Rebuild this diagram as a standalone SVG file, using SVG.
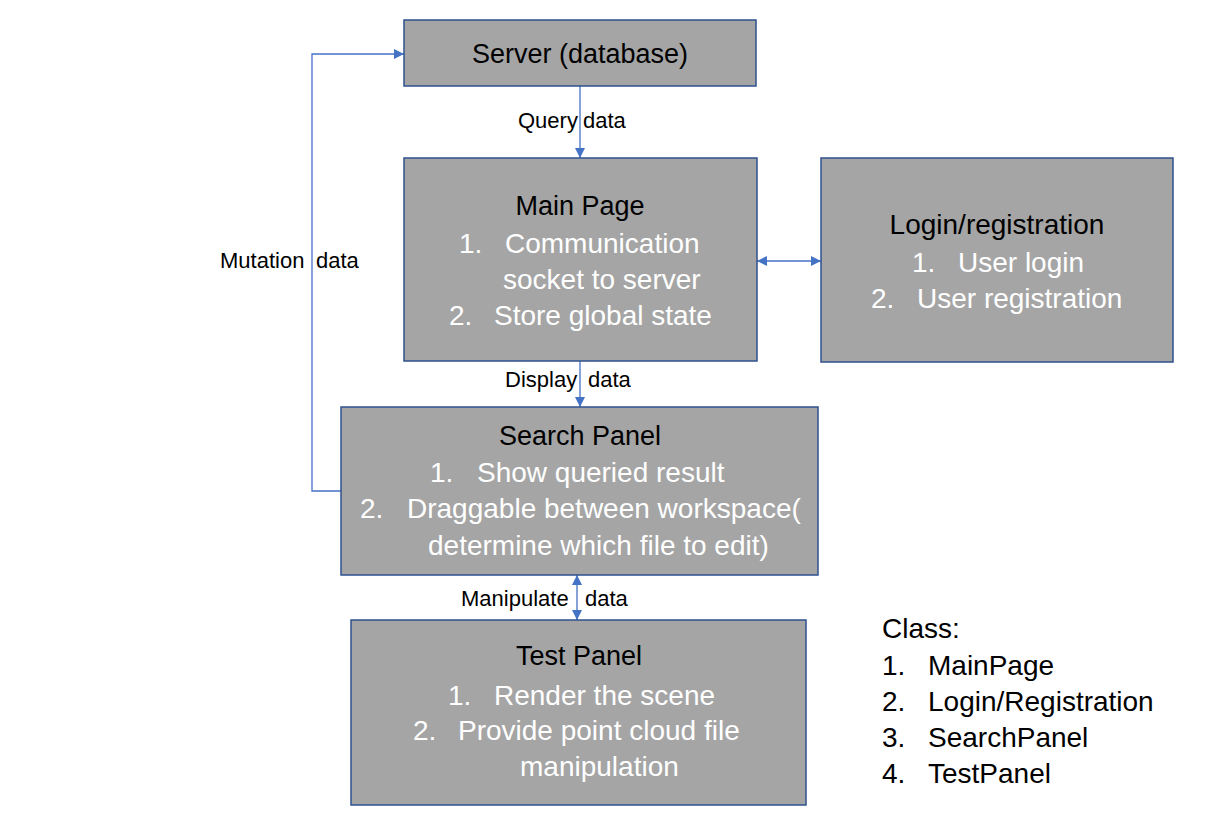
<svg xmlns="http://www.w3.org/2000/svg" width="1226" height="834" viewBox="0 0 1226 834">
<defs>
<style>
.box{fill:#a5a5a5;stroke:#2f528f;stroke-width:1.5}
.h{font-family:"Liberation Sans",Arial,sans-serif;font-size:27px;fill:#000}
.w{font-family:"Liberation Sans",Arial,sans-serif;font-size:28px;fill:#fff}
.lbl{font-family:"Liberation Sans",Arial,sans-serif;font-size:22px;fill:#000}
.cls{font-family:"Liberation Sans",Arial,sans-serif;font-size:28px;fill:#000}
.con{fill:none;stroke:#4472c4;stroke-width:1.3}
</style>
<marker id="ah" viewBox="0 0 10 10" refX="10" refY="5" markerWidth="11" markerHeight="10" markerUnits="userSpaceOnUse" orient="auto-start-reverse">
<path d="M0,0 L10,5 L0,10 Z" fill="#4472c4"/>
</marker>
</defs>
<rect width="1226" height="834" fill="#fff"/>
<g id="connectors">
<line class="con" x1="580" y1="86" x2="580" y2="158" marker-end="url(#ah)"/>
<line class="con" x1="580" y1="361" x2="580" y2="407" marker-end="url(#ah)"/>
<line class="con" x1="757" y1="261" x2="821" y2="261" marker-start="url(#ah)" marker-end="url(#ah)"/>
<line class="con" x1="577" y1="575" x2="577" y2="620" marker-start="url(#ah)" marker-end="url(#ah)"/>
<polyline class="con" points="341,491 312,491 312,54 404,54" marker-end="url(#ah)"/>
<text class="lbl" x="518" y="128">Query</text>
<text class="lbl" x="583" y="128">data</text>
<text class="lbl" x="220" y="268">Mutation</text>
<text class="lbl" x="316" y="268">data</text>
<text class="lbl" x="505" y="387">Display</text>
<text class="lbl" x="588" y="387">data</text>
<text class="lbl" x="461" y="606">Manipulate</text>
<text class="lbl" x="585" y="606">data</text>
</g>
<g id="server">
<rect class="box" x="404" y="20" width="352" height="66"/>
<text class="h" x="580" y="63" text-anchor="middle">Server (database)</text>
</g>
<g id="main-page">
<rect class="box" x="404" y="158" width="353" height="203"/>
<text class="h" x="580" y="215" text-anchor="middle">Main Page</text>
<text class="w" x="459" y="253">1.</text>
<text class="w" x="505" y="253">Communication</text>
<text class="w" x="503" y="289">socket to server</text>
<text class="w" x="449" y="325">2.</text>
<text class="w" x="494" y="325">Store global state</text>
</g>
<g id="login">
<rect class="box" x="821" y="158" width="352" height="204"/>
<text class="h" x="997" y="234" text-anchor="middle" style="font-size:28px">Login/registration</text>
<text class="w" x="912" y="272">1.</text>
<text class="w" x="958" y="272">User login</text>
<text class="w" x="871" y="308">2.</text>
<text class="w" x="917" y="308">User registration</text>
</g>
<g id="search-panel">
<rect class="box" x="341" y="407" width="477" height="168"/>
<text class="h" x="580" y="445" text-anchor="middle">Search Panel</text>
<text class="w" x="430" y="482">1.</text>
<text class="w" x="477" y="482">Show queried result</text>
<text class="w" x="360" y="518">2.</text>
<text class="w" x="407" y="518">Draggable between workspace(</text>
<text class="w" x="428" y="555">determine which file to edit)</text>
</g>
<g id="test-panel">
<rect class="box" x="351" y="620" width="455" height="185"/>
<text class="h" x="579" y="665" text-anchor="middle">Test Panel</text>
<text class="w" x="448" y="705">1.</text>
<text class="w" x="494" y="705">Render the scene</text>
<text class="w" x="413" y="740">2.</text>
<text class="w" x="458" y="740">Provide point cloud file</text>
<text class="w" x="520" y="776">manipulation</text>
</g>
<g id="class-list">
<text class="cls" x="882" y="638">Class:</text>
<text class="cls" x="882" y="675">1.</text>
<text class="cls" x="928" y="675">MainPage</text>
<text class="cls" x="882" y="711">2.</text>
<text class="cls" x="928" y="711">Login/Registration</text>
<text class="cls" x="882" y="747">3.</text>
<text class="cls" x="928" y="747">SearchPanel</text>
<text class="cls" x="882" y="783">4.</text>
<text class="cls" x="928" y="783">TestPanel</text>
</g>
</svg>
